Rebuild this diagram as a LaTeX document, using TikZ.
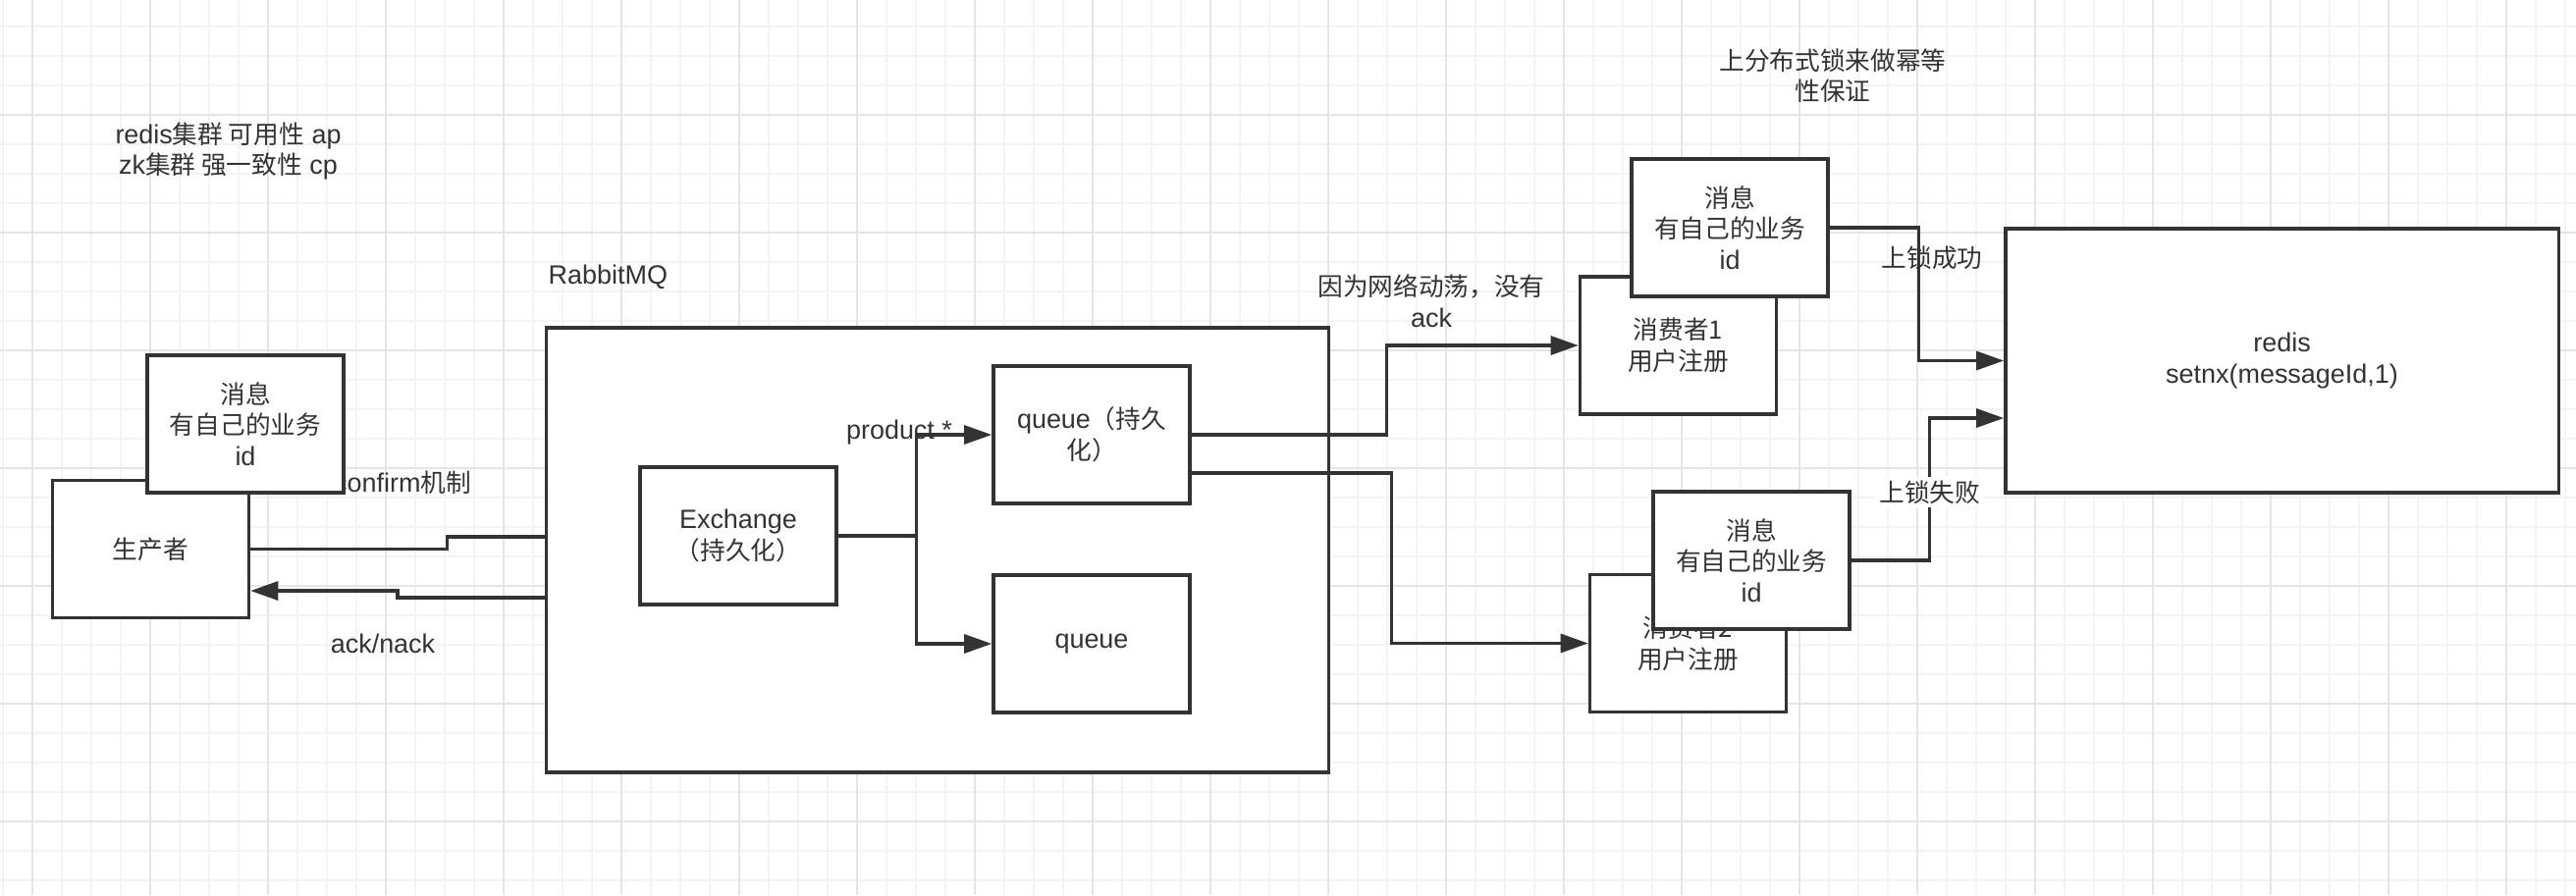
\documentclass[tikz,border=0pt]{standalone}
\usepackage{fontspec}
\setmainfont{Liberation Sans}[Scale=1.05]
\newfontfamily\cjkfont{Noto Sans CJK SC}
\newcommand{\zh}[1]{{\cjkfont #1}}
\usepackage{tikz}
\usetikzlibrary{arrows.meta,positioning}
\definecolor{ink}{HTML}{333333}
\definecolor{gridminor}{HTML}{F3F3F3}
\definecolor{gridmajor}{HTML}{E6E6E6}

\tikzset{
  box/.style={draw=ink, fill=white, line width=0.95pt, minimum width=2cm, minimum height=1.4cm, align=center, inner sep=0pt},
  link/.style={draw=ink, line width=0.95pt},
  arr/.style={link, -{Triangle[length=8pt,width=5.4pt]}},
  note/.style={align=center, inner sep=0pt},
}

\begin{document}
\begin{tikzpicture}[x=0.01cm, y=-0.01cm, every node/.style={text=ink, font=\fontsize{7.3}{9}\selectfont}]
\fill[white] (0,0) rectangle (2624,912);
\useasboundingbox (0,0) rectangle (2624,912);
% grid
\foreach \x in {3,33,...,2613} \draw[gridminor, line width=0.45pt] (\x,0) -- (\x,912);
\foreach \y in {27,57,...,897} \draw[gridminor, line width=0.45pt] (0,\y) -- (2624,\y);
\foreach \x in {33,153,...,2553} \draw[gridmajor, line width=0.45pt] (\x,0) -- (\x,912);
\foreach \y in {117,237,...,837} \draw[gridmajor, line width=0.45pt] (0,\y) -- (2624,\y);

\node[note] (cluster) at (232.5,154) {redis\zh{集群 可用性} ap\\zk\zh{集群 强一致性} cp};
\node[note] (confirm) at (410,492) {confirm\zh{机制}};
\node[note] (acklbl) at (390,656) {ack/nack};
\node[note, anchor=west] (rabbitlbl) at (558,282) {RabbitMQ};
\node[note] (netlbl) at (1458,307) {\zh{因为网络动荡，没有}\\ack};
\node[note] (locknote) at (1867,77) {\zh{上分布式锁来做幂等}\\\zh{性保证}};

\node[box] (producer) at (153.5,559.5) {\zh{生产者}};
\node[box] (pmsg) at (250,432) {\zh{消息}\\\zh{有自己的业务}\\id};
\node[box, minimum width=7.96cm, minimum height=4.53cm] (rabbit) at (955,560.5) {};
\node[box] (exch) at (752,546) {Exchange\\\zh{（持久化）}};
\node[box] (queue1) at (1112,443) {queue\zh{（持久}\\\zh{化）}};
\node[box] (queue2) at (1112,656) {queue};
\node[box] (cons1) at (1709.5,352) {\zh{消费者1}\\\zh{用户注册}};
\node[box] (msg1) at (1762,232) {\zh{消息}\\\zh{有自己的业务}\\id};
\node[box] (cons2) at (1719.5,655.5) {\zh{消费者2}\\\zh{用户注册}};
\node[box] (msg2) at (1784,571) {\zh{消息}\\\zh{有自己的业务}\\id};
\node[box, minimum width=5.63cm, minimum height=2.69cm] (redis) at (2324.5,367.5) {redis\\setnx(messageId,1)};

\draw[link] (producer.east) -- ++(200,0) |- ([yshift=0.135cm]rabbit.west);
\draw[arr] ([yshift=-0.485cm]rabbit.west) -- ++(-150,0) |- ([yshift=-0.425cm]producer.east);
\draw[link] (exch.east) -- ++(80,0) coordinate (fork);
\draw[arr] (fork) |- (queue1.west);
\draw[arr] (fork) |- (queue2.west);
\draw[arr] (queue1.east) -- ++(199,0) |- (cons1.west);
\draw[arr] ([yshift=-0.39cm]queue1.east) -- ++(204,0) |- (cons2.west);
\draw[arr] (msg1.east) -- ++(91,0) |- (redis.west);
\draw[arr] (msg2.east) -- ++(80,0) |- node[pos=0.24, fill=white, inner sep=1pt] (faillbl) {\zh{上锁失败}} ([yshift=-0.585cm]redis.west);

\node[note] (oklbl) at (1968,263) {\zh{上锁成功}};
\node[note, anchor=base] (prodlbl) at (916,447) {product *};
\end{tikzpicture}
\end{document}
